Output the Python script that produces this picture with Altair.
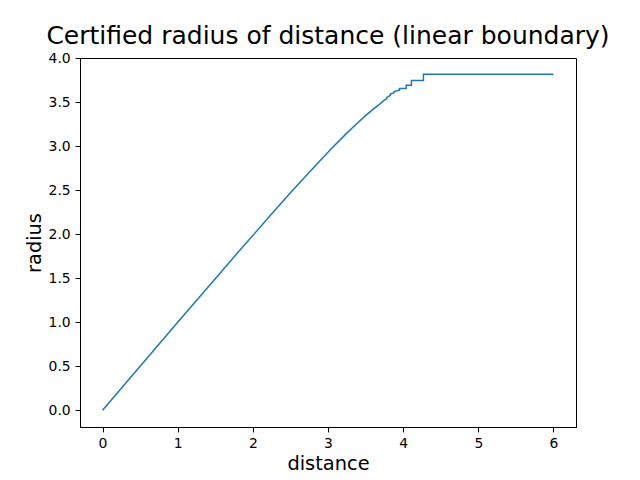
import altair as alt
import pandas as pd

distance = [0.0, 1.0, 1.8, 2.2, 2.5, 2.77, 2.9, 3.05, 3.23, 3.37, 3.5, 3.59, 3.7, 3.74,
            3.78, 3.78, 3.83, 3.83, 3.88, 3.88, 3.95, 3.95, 4.04, 4.04, 4.11, 4.11, 4.27, 4.27, 6.0]
radius = [0.0, 1.0, 1.79, 2.18, 2.47, 2.72, 2.84, 2.975, 3.13, 3.245, 3.345, 3.41, 3.485, 3.515,
          3.535, 3.55, 3.575, 3.59, 3.605, 3.62, 3.635, 3.655, 3.655, 3.69, 3.69, 3.745, 3.745, 3.815, 3.815]

df = pd.DataFrame({"distance": distance, "radius": radius, "i": list(range(len(distance)))})

line = alt.Chart(df).mark_line(color="#1f77b4", strokeWidth=1.5, clip=True).encode(
    x=alt.X("distance:Q", scale=alt.Scale(domain=[-0.3, 6.3], nice=False, zero=False),
            axis=alt.Axis(values=[0, 1, 2, 3, 4, 5, 6], format="d", title="distance")),
    y=alt.Y("radius:Q", scale=alt.Scale(domain=[-0.1907, 4.0], nice=False, zero=False),
            axis=alt.Axis(values=[0, 0.5, 1, 1.5, 2, 2.5, 3, 3.5, 4], format=".1f", title="radius")),
    order="i:Q",
)

chart = line.properties(
    width=496, height=369,
    title=alt.TitleParams("Certified radius of distance (linear boundary)", fontSize=25,
                          fontWeight="normal", font="DejaVu Sans", color="black", offset=5, dy=3),
    autosize=alt.AutoSizeParams(type="none"),
    padding={"left": 72, "top": 50, "right": 56, "bottom": 53},
).configure_view(stroke="black", strokeWidth=1).configure_axis(
    grid=False, domainColor="black", tickColor="black", labelColor="black",
    titleColor="black", labelFont="DejaVu Sans", titleFont="DejaVu Sans",
    labelFontSize=13.9, titleFontSize=19.4, titleFontWeight="normal", tickSize=4.9,
    tickWidth=1, domainWidth=1, labelPadding=4.9,
).configure_axisX(titlePadding=4).configure_axisY(titlePadding=4)

chart.save("out.html", embed_options={"renderer": "svg", "actions": False})
